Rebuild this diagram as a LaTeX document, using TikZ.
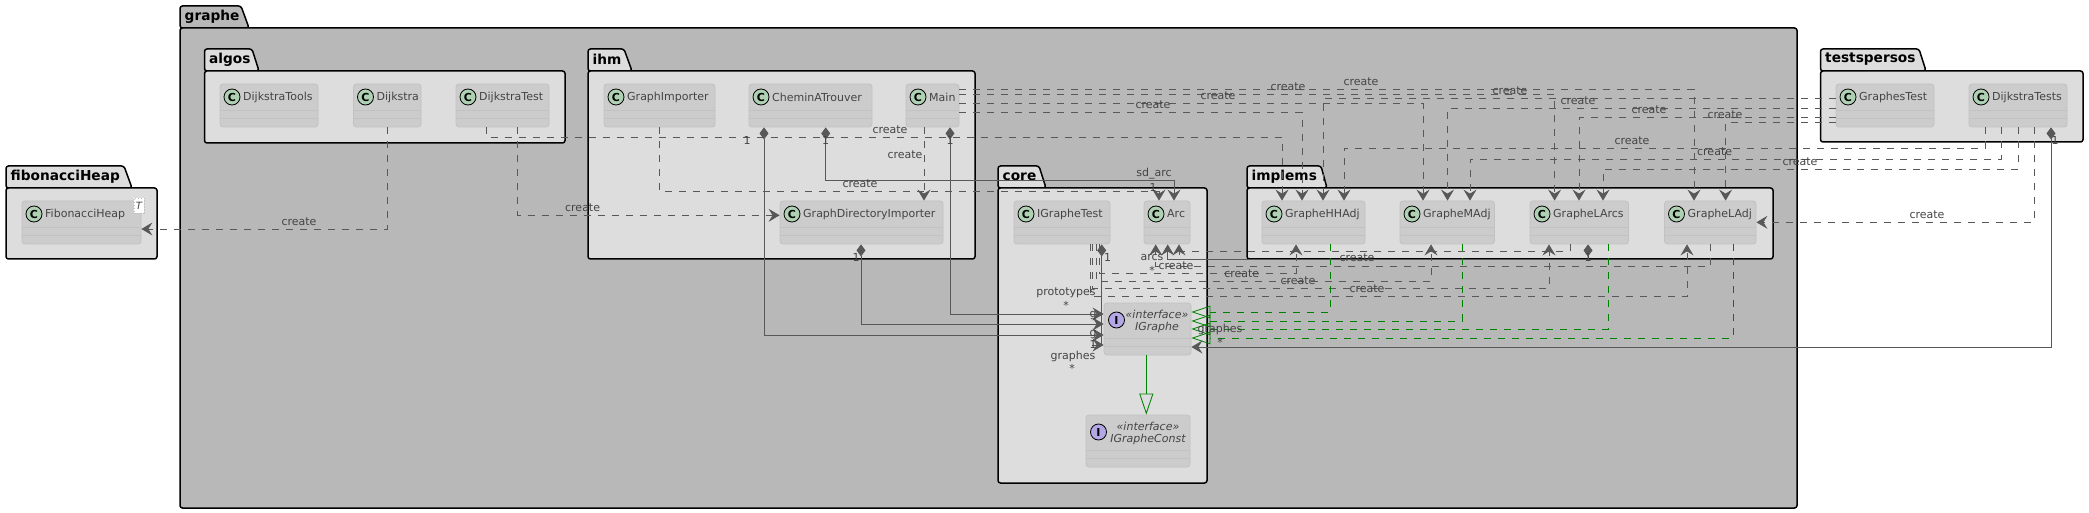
\documentclass[tikz,border=0pt]{standalone}
\usepackage{fontspec}
\setmainfont{DejaVu Sans}
\usetikzlibrary{arrows.meta,calc}
\definecolor{pkgdark}{HTML}{B8B8B8}
\definecolor{pkglight}{HTML}{DDDDDD}
\definecolor{classfill}{HTML}{CCCCCC}
\definecolor{classline}{HTML}{C2C2C2}
\definecolor{inktext}{HTML}{444444}
\definecolor{edgeink}{HTML}{585858}
\definecolor{greenink}{HTML}{008000}
\definecolor{cfill}{HTML}{ADD1B2}
\definecolor{ifill}{HTML}{B4A7E5}
\tikzset{
  x=1pt,y=-1pt,
  opentip/.tip={Stealth[length=11pt,width=13pt,inset=4pt,fill=edgeink]},
  panel/.style={draw=black,line width=1.5pt,rounded corners=2.5pt},
  pkgname/.style={inner sep=0pt,anchor=west,font=\bfseries\fontsize{13.7}{16}\selectfont,text=black},
  classbody/.style={draw=classline,fill=classfill,line width=0.8pt,rounded corners=3pt,inner sep=0pt},
  sepline/.style={draw=classline,line width=0.8pt},
  classname/.style={inner sep=0pt,anchor=west,text=inktext,font=\fontsize{11}{13}\selectfont},
  ifacetext/.style={inner sep=0pt,text=inktext,font=\itshape\fontsize{11}{13}\selectfont},
  badge/.style={circle,draw=black,line width=0.8pt,minimum size=16pt,inner sep=0pt,font=\bfseries\fontsize{11}{12}\selectfont,text=black},
  lab/.style={inner sep=0pt,text=inktext,font=\fontsize{11}{13}\selectfont},
  ink/.style={draw=edgeink,line width=0.85pt},
  dep/.style={ink,dash pattern=on 7pt off 7pt,-opentip},
  deplain/.style={ink,dash pattern=on 7pt off 7pt},
  comp/.style={ink,{Diamond[length=12pt,width=9pt,fill=edgeink]}-opentip},
  compplain/.style={ink,{Diamond[length=12pt,width=9pt,fill=edgeink]}-},
  headonly/.style={ink,-opentip},
  impl/.style={draw=greenink,line width=0.8pt,dash pattern=on 7pt off 7pt,-{Triangle[open,length=19pt,width=12.5pt,fill=none,sep=0pt]}},
  ext/.style={draw=greenink,line width=0.85pt,-{Triangle[open,length=21pt,width=14pt,fill=none]}},
}
\newcommand{\pkgpanel}[9]{%
  \draw[panel,fill=#2] (#3,#7) -- (#3,#4) -- (#5,#4) -- (#6,#7) -- cycle;
  \node[pkgname] (tab-#1) at (#3+4.5,{(#4+#7)/2-0.5}) {#1};
  \draw[panel,fill=#2] (#3,#7) rectangle (#8,#9);
}
\newcommand{\classbox}[6]{%
  \node[classbody,minimum width={#4-#2},minimum height={#5-#3}] (#1) at ({(#2+#4)/2},{(#3+#5)/2}) {};
  \draw[sepline] (#2,#5-17) -- (#4,#5-17) (#2,#5-9) -- (#4,#5-9);
  \node[badge,fill=cfill] (#1-c) at (#2+12,#3+13) {C};
  \node[classname] (#1-t) at (#2+23,#3+13) {#6};
}
\begin{document}
\begin{tikzpicture}
\useasboundingbox (0,0) rectangle (2089,513);
\fill[white] (0,0) rectangle (2089,513);

% packages
\pkgpanel{graphe}{pkgdark}{180}{6}{241}{249}{28}{1797}{508}
\pkgpanel{fibonacciHeap}{pkglight}{6}{166}{124}{132}{188}{157}{259}
\pkgpanel{algos}{pkglight}{204.5}{49}{252}{259}{71}{565}{143}
\pkgpanel{ihm}{pkglight}{588}{49}{624}{632}{71}{975}{259}
\pkgpanel{core}{pkglight}{998}{166}{1039}{1046}{188}{1207}{483}
\pkgpanel{implems}{pkglight}{1247}{166}{1321}{1327}{188}{1773}{259}
\pkgpanel{testspersos}{pkglight}{1820.5}{49}{1919}{1926}{71}{2083}{142}

% classes
\classbox{FibonacciHeap}{22}{201}{141}{244}{FibonacciHeap}
\node[draw=classline,dash pattern=on 1.5pt off 1.5pt,line width=0.5pt,fill=white,inner sep=0pt,minimum width=10pt,minimum height=15pt,font=\itshape\fontsize{10}{12}\selectfont,text=inktext] (FibT) at (139,205.5) {T};
\classbox{DijkstraTools}{220}{84}{318}{127}{DijkstraTools}
\classbox{Dijkstra}{353.5}{84}{421}{127}{Dijkstra}
\classbox{DijkstraTest}{456}{84}{549}{127}{DijkstraTest}
\classbox{GraphImporter}{604}{84}{715}{127}{GraphImporter}
\classbox{CheminATrouver}{749}{84}{872}{127}{CheminATrouver}
\classbox{Main}{906}{84}{959}{127}{Main}
\classbox{GraphDirectoryImporter}{780}{201}{943}{244}{GraphDirectoryImporter}
\classbox{IGrapheTest}{1014}{201}{1110}{244}{IGrapheTest}
\classbox{Arc}{1144}{201}{1190}{244}{Arc}
\classbox{GrapheHHAdj}{1262}{201}{1365}{244}{GrapheHHAdj}
\classbox{GrapheMAdj}{1400}{201}{1494.5}{244}{GrapheMAdj}
\classbox{GrapheLArcs}{1530}{201}{1628.5}{244}{GrapheLArcs}
\classbox{GrapheLAdj}{1664.5}{201}{1756}{244}{GrapheLAdj}
\classbox{GraphesTest}{1836}{84}{1934}{127}{GraphesTest}
\classbox{DijkstraTests}{1969}{84}{2067}{127}{DijkstraTests}
% interfaces
\node[classbody,minimum width=87pt,minimum height=52pt] (IGraphe) at (1147.5,329) {};
\draw[sepline] (1104,338) -- (1191,338) (1104,346) -- (1191,346);
\node[badge,fill=ifill] (IGraphe-c) at (1116.5,320) {I};
\node[ifacetext] (IGraphe-s) at (1157,314) {«interface»};
\node[ifacetext] (IGraphe-t) at (1157,327) {IGraphe};
\node[classbody,minimum width=104pt,minimum height=52pt] (IGrapheConst) at (1138,441) {};
\draw[sepline] (1086,450) -- (1190,450) (1086,458) -- (1190,458);
\node[badge,fill=ifill] (IGrapheConst-c) at (1098.5,432) {I};
\node[ifacetext] (IGrapheConst-s) at (1148,426) {«interface»};
\node[ifacetext] (IGrapheConst-t) at (1148,439) {IGrapheConst};

% create dependencies
\draw[dep] (Dijkstra.south -| 387.5,0) -- (387.5,229) -- (FibonacciHeap.east |- 0,229);
\draw[dep] (DijkstraTest.south -| 517.4,0) -- (517.4,215.3) -- (GraphDirectoryImporter.west |- 0,215.3);
\draw[dep] (DijkstraTest.south -| 486.6,0) -- (486.6,137.3) -- (1282,137.3) -- (GrapheHHAdj.north -| 1282,0);
\draw[dep] (GraphImporter.south -| 659,0) -- (659,191.3) -- (1159,191.3) -- (Arc.north -| 1159,0);
\draw[dep] (Main.south -| 924,0) -- (GraphDirectoryImporter.north -| 924,0);
\draw[dep] (Main.east |- 0,89.5) -- (1694,89.5) -- (GrapheLAdj.north -| 1694,0);
\draw[dep] (Main.east |- 0,94) -- (1554.6,94) -- (GrapheLArcs.north -| 1554.6,0);
\draw[dep] (Main.east |- 0,103.5) -- (1423,103.5) -- (GrapheMAdj.north -| 1423,0);
\draw[dep] (Main.east |- 0,112.3) -- (1302,112.3) -- (GrapheHHAdj.north -| 1302,0);
\draw[dep] (GraphesTest.west |- 0,98.3) -- (1323,98.3) -- (GrapheHHAdj.north -| 1323,0);
\draw[dep] (GraphesTest.west |- 0,108) -- (1447.5,108) -- (GrapheMAdj.north -| 1447.5,0);
\draw[dep] (GraphesTest.west |- 0,117.3) -- (1579,117.3) -- (GrapheLArcs.north -| 1579,0);
\draw[dep] (GraphesTest.west |- 0,122.3) -- (1725.6,122.3) -- (GrapheLAdj.north -| 1725.6,0);
\draw[dep] (DijkstraTests.south -| 1985,0) -- (1985,148.3) -- (1344,148.3) -- (GrapheHHAdj.north -| 1344,0);
\draw[dep] (DijkstraTests.south -| 2001.5,0) -- (2001.5,159.3) -- (1470,159.3) -- (GrapheMAdj.north -| 1470,0);
\draw[dep] (DijkstraTests.south -| 2018,0) -- (2018,169.3) -- (1603,169.3) -- (GrapheLArcs.north -| 1603,0);
\draw[dep] (DijkstraTests.south -| 2034,0) -- (2034,222.3) -- (GrapheLAdj.east |- 0,222.3);
% IGrapheTest to implementations
\draw[dep] (IGrapheTest.south -| 1099,0) -- (1099,273.3) -- (1296,273.3) -- (GrapheHHAdj.south -| 1296,0);
\draw[dep] (IGrapheTest.south -| 1096,0) -- (1096,281) -- (1431,281) -- (GrapheMAdj.south -| 1431,0);
\draw[dep] (IGrapheTest.south -| 1092.7,0) -- (1092.7,288.3) -- (1549,288.3) -- (GrapheLArcs.south -| 1549,0);
\draw[dep] (IGrapheTest.south -| 1090,0) -- (1090,296.5) -- (1687,296.5) -- (GrapheLAdj.south -| 1687,0);
% implementations to Arc
\draw[deplain] (GrapheLArcs.south -| 1570,0) -- (1570,251.5) -- (1179,251.5);
\draw[headonly] (1179,255) -- (Arc.south -| 1179,0);
\draw[dep] (GrapheLAdj.south -| 1710.7,0) -- (1710.7,266.3) -- (1155.7,266.3) -- (Arc.south -| 1155.7,0);
% implements
\draw[impl] (GrapheHHAdj.south -| 1330,0) -- (1330,312) -- (IGraphe.east |- 0,312);
\draw[impl] (GrapheMAdj.south -| 1462,0) -- (1462,321) -- (IGraphe.east |- 0,321);
\draw[impl] (GrapheLArcs.south -| 1608,0) -- (1608,329) -- (IGraphe.east |- 0,329);
\draw[impl] (GrapheLAdj.south -| 1733,0) -- (1733,338) -- (IGraphe.east |- 0,338);
\draw[ext] (IGraphe.south -| 1146.3,0) -- (IGrapheConst.north -| 1146.3,0);
% compositions
\draw[comp] (Main.south -| 950,0) -- (950,314) -- (IGraphe.west |- 0,314);
\draw[comp] (GraphDirectoryImporter.south -| 861,0) -- (861,324) -- (IGraphe.west |- 0,324);
\draw[comp] (CheminATrouver.south -| 764,0) -- (764,335) -- (IGraphe.west |- 0,335);
\draw[comp] (CheminATrouver.south -| 825.7,0) -- (825.7,180.3) -- (1174,180.3) -- (Arc.north -| 1174,0);
\draw[compplain] (IGrapheTest.south -| 1101.7,0) -- (1101.7,345);
\draw[headonly] (1092,345) -- (IGraphe.west |- 0,345);
\draw[comp] (GrapheLArcs.south -| 1588,0) -- (1588,259) -- (1167.7,259) -- (Arc.south -| 1167.7,0);
\draw[comp] (DijkstraTests.south -| 2051,0) -- (2051,347) -- (IGraphe.east |- 0,347);

% create labels
\node[lab] (c01) at (299,222) {create};
\node[lab] (c02) at (582.6,208) {create};
\node[lab] (c03) at (890,130) {create};
\node[lab] (c04) at (860,184) {create};
\node[lab] (c05) at (905,155) {create};
\node[lab] (c06) at (1361,82) {create};
\node[lab] (c07) at (1288,87) {create};
\node[lab] (c08) at (1218,96) {create};
\node[lab] (c09) at (1153,105) {create};
\node[lab] (c10) at (1510,91) {create};
\node[lab] (c11) at (1578,101) {create};
\node[lab] (c12) at (1649,110) {create};
\node[lab] (c13) at (1725,115) {create};
\node[lab] (c14) at (1632,141) {create};
\node[lab] (c15) at (1714.6,152) {create};
\node[lab] (c16) at (1800,162) {create};
\node[lab] (c17) at (1927,215) {create};
\node[lab] (c18) at (1357,258) {create};
\node[lab] (c19) at (1176,266) {create};
\node[lab] (c20) at (1241.7,274) {create};
\node[lab] (c21) at (1298,281) {create};
\node[lab] (c22) at (1367,289) {create};
% multiplicities and roles
\node[lab] (m01) at (747,140) {1};
\node[lab] (m02) at (825.7,140) {1};
\node[lab] (m03) at (950,140) {1};
\node[lab] (m04) at (856,257) {1};
\node[lab] (m05) at (2055,140) {1};
\node[lab] (m06) at (1107.5,257) {1};
\node[lab] (m07) at (1588,257) {1};
\node[lab] (m08) at (1153,187) {1};
\node[lab] (m09) at (1093,344) {1};
\node[lab] (g1) at (1093,315.5) {g};
\node[lab] (g2) at (1093,334.5) {g};
\node[lab] (r1) at (1154,174) {sd\_arc};
\node[lab] (r2) at (1152,257) {arcs};
\node[lab] (r3) at (1152,270) {*};
\node[lab] (r4) at (1066,293) {prototypes};
\node[lab] (r5) at (1066,305) {*};
\node[lab] (r6) at (1073,356) {graphes};
\node[lab] (r7) at (1072,368) {*};
\node[lab] (r8) at (1220,329) {graphes};
\node[lab] (r9) at (1220,342) {*};
\end{tikzpicture}
\end{document}
